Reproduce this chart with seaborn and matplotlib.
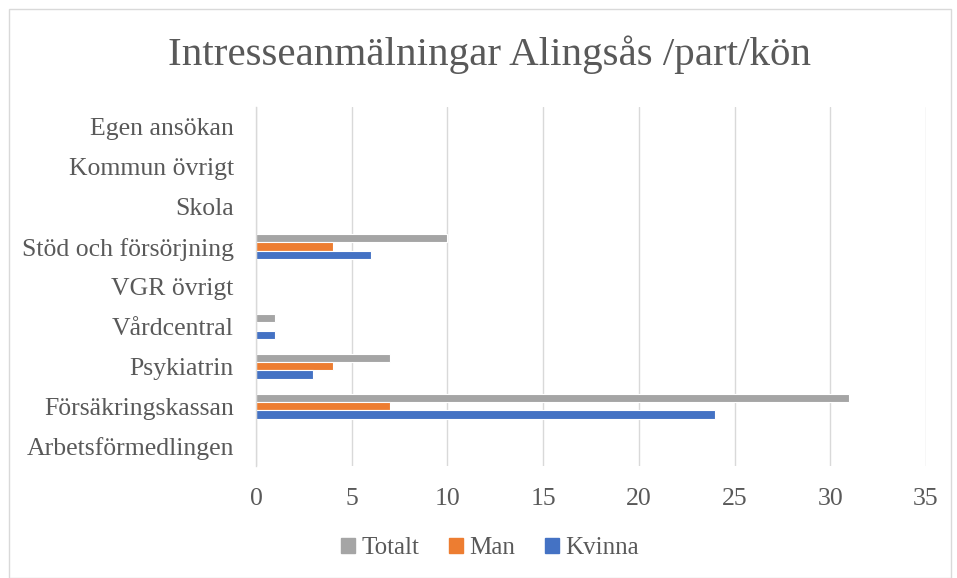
import pandas as pd
import matplotlib.pyplot as plt
import seaborn as sns
from matplotlib.patches import Rectangle

# Data
categories = ['Egen ansökan', 'Kommun övrigt', 'Skola', 'Stöd och försörjning',
              'VGR övrigt', 'Vårdcentral', 'Psykiatrin', 'Försäkringskassan',
              'Arbetsförmedlingen']
totalt = [0, 0, 0, 10, 0, 1, 7, 31, 0]
man = [0, 0, 0, 4, 0, 0, 4, 7, 0]
kvinna = [0, 0, 0, 6, 0, 1, 3, 24, 0]

series = ['Totalt', 'Man', 'Kvinna']
colors = {'Totalt': '#A5A5A5', 'Man': '#ED7D31', 'Kvinna': '#4472C4'}

df = pd.DataFrame({'Kategori': categories, 'Totalt': totalt, 'Man': man, 'Kvinna': kvinna})
long_df = df.melt(id_vars='Kategori', value_vars=series, var_name='Serie', value_name='Antal')

sns.set_style('white')
plt.rcParams['font.family'] = ['Liberation Serif', 'DejaVu Serif']
text_color = '#595959'

fig = plt.figure(figsize=(9.57, 5.78), dpi=100)
ax = fig.add_axes([256 / 957, 1 - 466 / 578, 670 / 957, 359 / 578])

sns.barplot(data=long_df, y='Kategori', x='Antal', hue='Serie', order=categories,
            hue_order=series, palette=colors, orient='h', width=0.62, saturation=1,
            edgecolor='white', linewidth=0.8, ax=ax, legend=False)

ax.set_xlim(0, 35)
ax.set_xticks(range(0, 36, 5))
ax.xaxis.grid(True, color='#D9D9D9', linewidth=1)
ax.set_axisbelow(True)
for side in ['top', 'right', 'bottom']:
    ax.spines[side].set_visible(False)
ax.spines['left'].set_color('#D9D9D9')
ax.spines['left'].set_linewidth(1)
ax.set_xlabel('')
ax.set_ylabel('')
ax.tick_params(axis='both', length=0, labelsize=18.5, colors=text_color)
ax.tick_params(axis='y', pad=16)
ax.tick_params(axis='x', pad=16)

fig.text(0.512, 1 - 55 / 578, 'Intresseanmälningar Alingsås /part/kön', ha='center',
         va='center', fontsize=29.5, color=text_color)

handles = [Rectangle((0, 0), 1, 1, color=colors[s]) for s in series]
fig.legend(handles, series, loc='center', bbox_to_anchor=(0.512, 1 - 548 / 578),
           ncol=3, frameon=False, fontsize=18, handlelength=0.55, handleheight=0.55,
           handletextpad=0.25, columnspacing=1.2, labelcolor=text_color)

fig.patches.append(Rectangle((9 / 957, 0), 942 / 957, 1 - 9 / 578, transform=fig.transFigure,
                             fill=False, edgecolor='#D9D9D9', linewidth=1))

fig.savefig('out.png', dpi=100, facecolor='white')
